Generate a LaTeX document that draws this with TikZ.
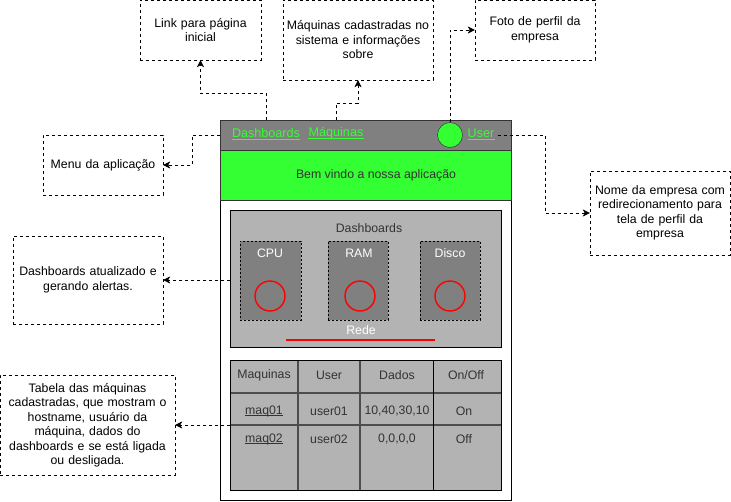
\documentclass[tikz,border=0pt]{standalone}
\usepackage{fontspec}
\setmainfont{Liberation Sans}
\usetikzlibrary{arrows.meta,calc}
\definecolor{barGray}{HTML}{808080}
\definecolor{appGreen}{HTML}{33FF33}
\definecolor{panelGray}{HTML}{B3B3B3}
\definecolor{darkText}{HTML}{333333}
\definecolor{gridGray}{HTML}{4D4D4D}
\tikzset{
  note/.style={draw=black, dash pattern=on 3pt off 3pt, fill=white, align=center,
    font=\fontsize{12.3}{14.5}\selectfont, inner sep=2pt},
  conn/.style={draw=black, dash pattern=on 3pt off 3pt,
    -{Stealth[length=7pt,width=7pt,inset=2pt]}},
  block/.style={rectangle, inner sep=0pt, outer sep=0pt},
  tile/.style={block, fill=barGray, draw=black, dash pattern=on 2pt off 2pt},
  gauge/.style={circle, draw=red, line width=1.4pt, minimum size=30pt, inner sep=0pt},
  navlink/.style={text=appGreen, font=\fontsize{12.6}{14}\selectfont, inner sep=0pt},
  label/.style={font=\fontsize{12.3}{14}\selectfont, inner sep=0pt},
  uline/.style={line width=0.8pt},
}
\begin{document}
\begin{tikzpicture}[x=1pt,y=-1pt]
\useasboundingbox (0,0) rectangle (731,501);

% application frame
\node[block, draw=black, fill=white, minimum width=291pt, minimum height=380pt] (frame) at (365.5,310) {};
\node[block, draw=darkText, fill=barGray, minimum width=291pt, minimum height=30pt] (topbar) at (365.5,135) {};
\node[block, draw=darkText, fill=appGreen, minimum width=291pt, minimum height=50pt] (greenbar) at (365.5,175) {};
\node[label, text=darkText] (welcome) at (376,175) {Bem vindo a nossa aplicação};

% navigation bar
\node[navlink] (dlink) at (266,133) {Dashboards};
\node[navlink] (mlink) at (336,133) {Máquinas};
\node[circle, draw=black!85, fill=appGreen, minimum size=25pt, inner sep=0pt] (avatar) at (450,135) {};
\node[navlink] (ulink) at (481,133) {User};
\foreach \n in {dlink,mlink,ulink}
  \draw[uline, appGreen] ($(\n.base west)+(0,1.8)$) -- ($(\n.base east)+(0,1.8)$);

% dashboards panel
\node[block, draw=black, fill=panelGray, minimum width=271pt, minimum height=137pt] (panel) at (365.5,278.5) {};
\node[label, text=darkText] (ptitle) at (369,228) {Dashboards};
\node[tile, minimum width=61pt, minimum height=79pt] (cpu) at (270.5,280.5) {};
\node[tile, minimum width=60pt, minimum height=79pt] (ram) at (358,280.5) {};
\node[tile, minimum width=60pt, minimum height=79pt] (disco) at (450,280.5) {};
\node[label, text=white] (cpul) at (270,253) {CPU};
\node[label, text=white] (raml) at (359,253) {RAM};
\node[label, text=white] (discol) at (450,253) {Disco};
\node[gauge] (cpug) at (270,296) {};
\node[gauge] (ramg) at (360,296) {};
\node[gauge] (discog) at (450,296) {};
\node[label, text=white] (rede) at (361,330) {Rede};
\draw[red, line width=2.5pt] (286,340) -- (435,340);

% machines table
\node[block, draw=black, fill=panelGray, minimum width=271pt, minimum height=130pt] (table) at (365.5,425) {};
\draw[gridGray, line width=1.3pt] (230,393) -- (501,393);
\draw[gridGray, line width=1.3pt] (230,425) -- (501,425);
\draw[gridGray, line width=1.3pt] (298,360) -- (298,490);
\draw[gridGray, line width=1.3pt] (360,360) -- (360,490);
\draw[black, line width=0.9pt] (433,360) -- (433,490);
\draw[black, line width=1pt] (table.north west) rectangle (table.south east);
\node[label, text=darkText] (h1) at (264,375) {Maquinas};
\node[label, text=darkText] (h2) at (329,375) {User};
\node[label, text=darkText] (h3) at (397,375) {Dados};
\node[label, text=darkText] (h4) at (466,375) {On/Off};
\node[label, text=darkText] (r1a) at (264,411) {maq01};
\node[label, text=darkText] (r1b) at (329,411) {user01};
\node[label, text=darkText] (r1c) at (397,411) {10,40,30,10};
\node[label, text=darkText] (r1d) at (464,411) {On};
\node[label, text=darkText] (r2a) at (264,439) {maq02};
\node[label, text=darkText] (r2b) at (329,439) {user02};
\node[label, text=darkText] (r2c) at (397,439) {0,0,0,0};
\node[label, text=darkText] (r2d) at (464,439) {Off};
\foreach \n in {r1a,r2a}
  \draw[uline, darkText] ($(\n.base west)+(0,1.8)$) -- ($(\n.base east)+(0,1.8)$);

% annotations
\node[note, minimum width=121pt, minimum height=60pt, text width=110pt] (linkbox) at (200.5,30) {Link para página\\inicial};
\node[note, minimum width=150pt, minimum height=80pt, text width=146pt] (maqbox) at (358,40) {Máquinas cadastradas no\\sistema e informações\\sobre};
\node[note, minimum width=120pt, minimum height=60pt, text width=110pt] (fotobox) at (535,30) {Foto de perfil da\\empresa};
\node[note, minimum width=120pt, minimum height=60pt, text width=110pt] (menubox) at (103,165) {Menu da aplicação};
\node[note, minimum width=150pt, minimum height=88pt, text width=146pt] (dashbox) at (88,280) {Dashboards atualizado e\\gerando alertas.};
\node[note, minimum width=175pt, minimum height=100pt, text width=171pt] (tabbox) at (87.5,425) {Tabela das máquinas\\cadastradas, que mostram o\\hostname, usuário da\\máquina, dados do\\dashboards e se está ligada\\ou desligada.};
\node[note, minimum width=140pt, minimum height=84pt, text width=136pt] (nomebox) at (660,213) {Nome da empresa com\\redirecionamento para\\tela de perfil da\\empresa};

% connectors
\draw[conn] (dlink.north |- topbar.north) -- ++(0,-27) -| (linkbox.south);
\draw[conn] (mlink.north |- topbar.north) -- ++(0,-17) -| (maqbox.south);
\draw[conn] (avatar.north) |- (fotobox.west);
\draw[conn] (topbar.west) -- ++(-28,0) |- (menubox.east);
\coordinate (ubend) at (545,135);
\draw[conn] ($(ulink.east)+(3,2)$) -- (ubend) |- (nomebox.west);
\draw[conn] (panel.west |- dashbox.east) -- (dashbox.east);
\draw[conn] (table.west |- tabbox.east) -- (tabbox.east);
\end{tikzpicture}
\end{document}
